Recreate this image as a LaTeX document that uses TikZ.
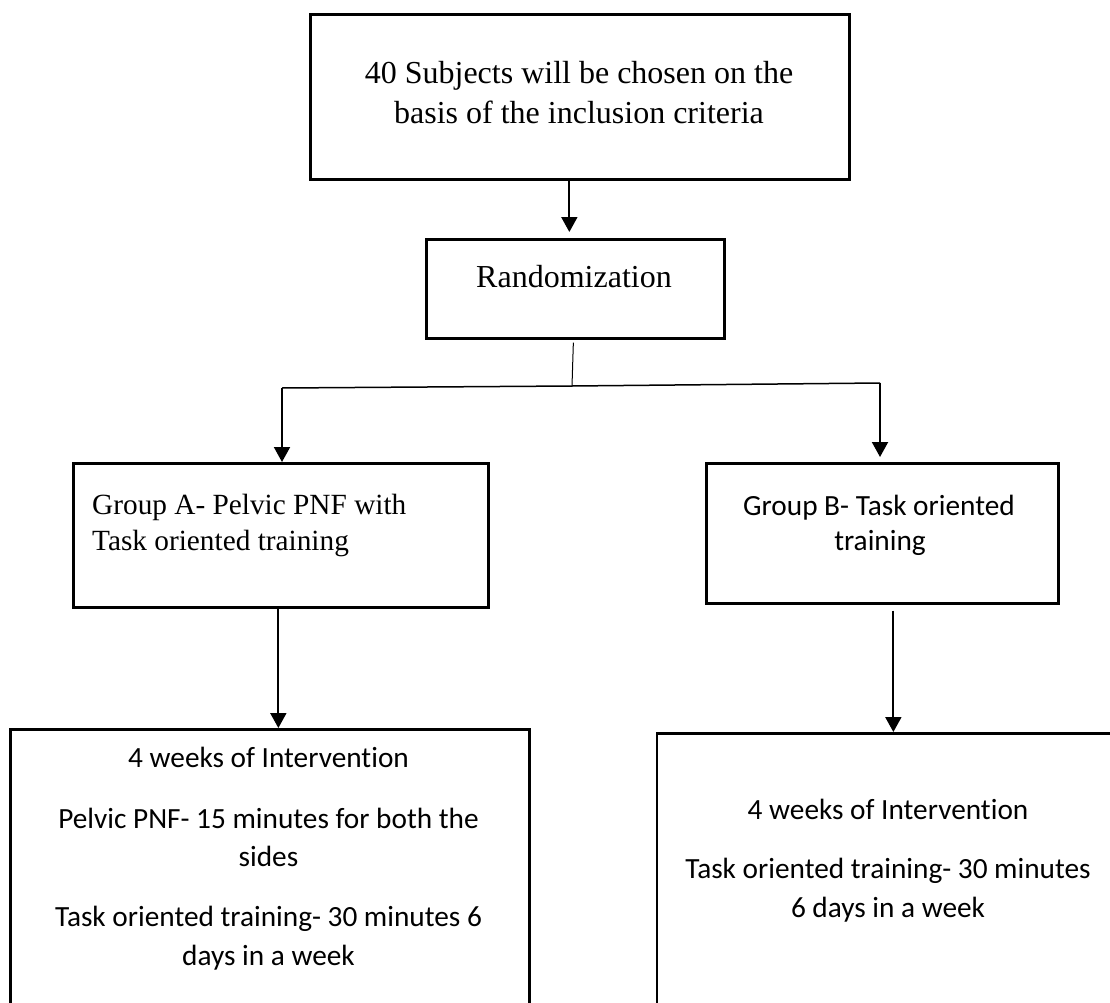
\documentclass[tikz,border=0pt]{standalone}
\usepackage{fontspec}
\setmainfont{Liberation Serif}
\newfontfamily\calib[Ligatures={NoCommon,NoRare}]{Carlito}
\usetikzlibrary{arrows.meta}
\begin{document}
\begin{tikzpicture}[x=1pt,y=-1pt,
  box/.style={draw, line width=2.7pt, inner sep=0pt, anchor=north west},
  conn/.style={line width=2pt},
  arr/.style={conn, -{Triangle[length=15pt,width=16pt]}},
  serbig/.style={font=\fontsize{32}{40}\selectfont, inner sep=0pt, anchor=base},
  sersmall/.style={font=\fontsize{29.3}{36}\selectfont, inner sep=0pt, anchor=base west},
  cal/.style={font=\calib\fontsize{29.3}{36}\selectfont, inner sep=0pt, anchor=base}
]
\useasboundingbox (0,0) rectangle (1110,1003);
\clip (0,0) rectangle (1110,1003);
\fill[white] (0,0) rectangle (1110,1003);

% boxes
\node[box, minimum width=539pt, minimum height=165pt] (top) at (309,13) {};
\node[box, minimum width=298pt, minimum height=99pt] (rand) at (425,238) {};
\node[box, minimum width=415pt, minimum height=144pt] (grpA) at (72,462) {};
\node[box, minimum width=352pt, minimum height=140pt] (grpB) at (705,462) {};
\node[box, minimum width=519pt, minimum height=330pt] (intA) at (9,728) {};
\node[box, minimum width=470pt, minimum height=330pt] (intB) at (655.5,732) {};

% texts
\node[serbig] (t1) at (579,84) {40 Subjects will be chosen on the};
\node[serbig] (t2) at (579,124) {basis of the inclusion criteria};
\node[serbig] (r1) at (574,287) {Randomization};
\node[sersmall] (a1) at (92,514) {Group A- Pelvic PNF with};
\node[sersmall] (a2) at (92,550) {Task oriented training};
\node[cal] (b1) at (879,515) {Group B- Task oriented};
\node[cal] (b2) at (880,550) {training};
\node[cal] (ia1) at (268.5,767.7) {4 weeks of Intervention};
\node[cal] (ia2) at (268.5,828) {Pelvic PNF- 15 minutes for both the};
\node[cal] (ia3) at (268.5,866) {sides};
\node[cal] (ia4) at (268.5,926.7) {Task oriented training- 30 minutes 6};
\node[cal] (ia5) at (268.5,965) {days in a week};
\node[cal] (ib1) at (888,819) {4 weeks of Intervention};
\node[cal] (ib2) at (888,878) {Task oriented training- 30 minutes};
\node[cal] (ib3) at (888,917) {6 days in a week};

% connectors
\coordinate (hub) at (572,386);
\coordinate (jl) at (282,388);
\coordinate (jr) at (880,383);
\coordinate (aout) at ([xshift=-2.5pt]grpA.south);
\coordinate (bout) at ([xshift=11pt,yshift=-6pt]grpB.south);

\draw[arr, shorten >=6pt] ([xshift=-10.5pt]top.south) -- ([xshift=-10.5pt]top.south |- rand.north);
\draw[line width=1pt] ([xshift=-2pt,yshift=-3pt]rand.south) -- (hub);
\draw[line width=1.5pt] (jl) -- (hub) -- (jr);
\draw[arr] (jl) -- (jl |- grpA.north);
\draw[arr, shorten >=5pt] (jr) -- (jr |- grpB.north);
\draw[arr] (aout) -- (aout |- intA.north);
\draw[arr] (bout) -- (bout |- intB.north);
\end{tikzpicture}
\end{document}
